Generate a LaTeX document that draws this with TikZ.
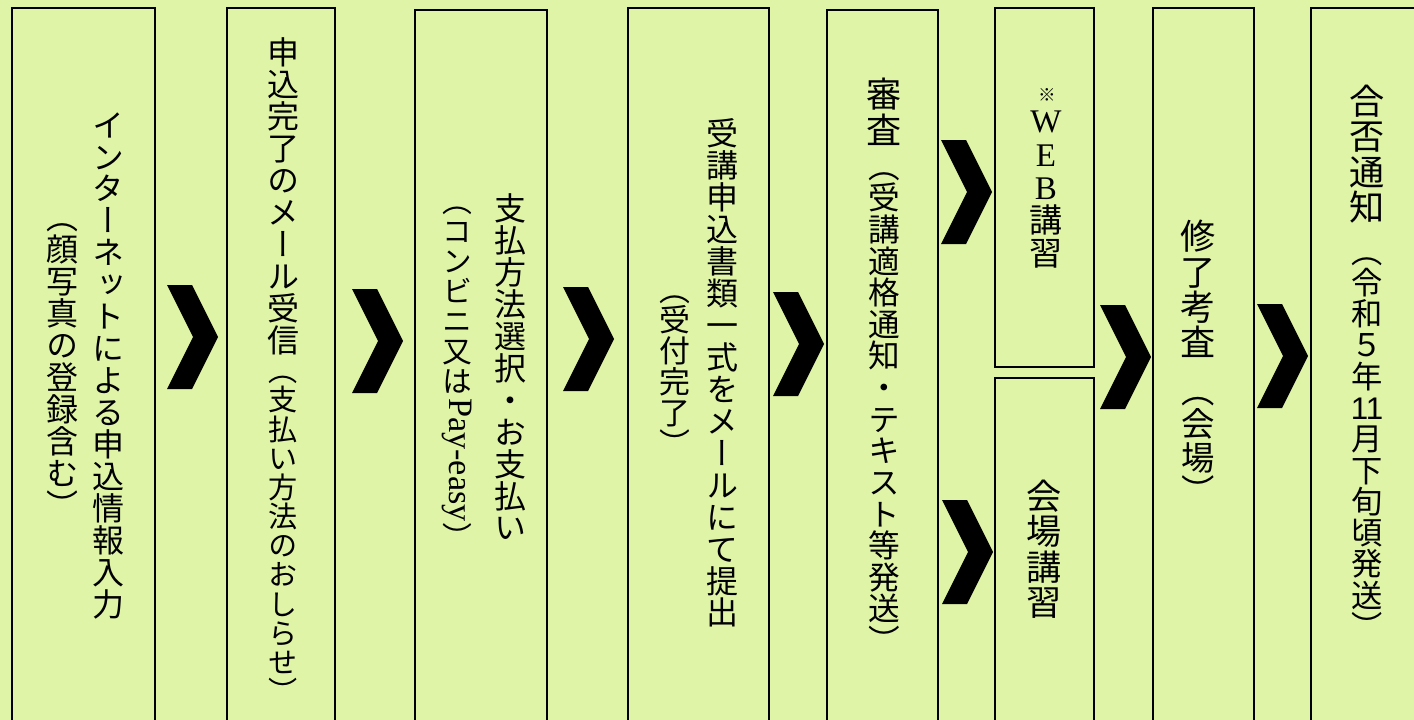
\documentclass[tikz,border=0pt]{standalone}
\usepackage{fontspec}
\usepackage{graphicx}
\usetikzlibrary{fit}
\newfontfamily\jpv[RawFeature=+vert]{Noto Sans CJK JP}
\newfontfamily\jph{Noto Sans CJK JP}
\newfontfamily\latinrm{Liberation Serif}
\newfontfamily\latinsf{Liberation Sans}
\definecolor{sheetgreen}{RGB}{223,244,166}
\newcommand\bigsz{\fontsize{20}{20}\selectfont}
\newcommand\mainsz{\fontsize{18.2}{18}\selectfont}
\newcommand\subsz[1]{\fontsize{#1}{#1}\selectfont}
% one character per line, for the vertical columns
\ExplSyntaxOn
\NewDocumentCommand \vstack { m }
  {
    \vbox:n
      {
        \skip_set:Nn \baselineskip { 1em }
        \tl_map_inline:nn {#1} { \hbox_to_wd:nn { 1em } { \hss ##1 \hss } }
      }
  }
\ExplSyntaxOff

\begin{document}
\begin{tikzpicture}[
    x=0.02cm, y=-0.02cm,
    stepbox/.style={draw, line width=1.4pt, inner sep=0pt, fit={#1}},
    vtext/.style={anchor=north, inner sep=0pt, font=\jpv\mainsz},
    chevron/.pic={\fill[black] (0,0) -- (25,0) -- (51,52) -- (25,104) -- (0,104) -- (26,52) -- cycle;}
]
    \useasboundingbox (0,0) rectangle (1414,720);
    \fill[sheetgreen] (0,0) rectangle (1414,720);
    \clip (0,0) rectangle (1414,720);

    % Boxes
    \node[stepbox={(12,8) (155,730)}] (entry) {};
    \node[stepbox={(227,8) (335,730)}] (mailrecv) {};
    \node[stepbox={(415,10) (547,730)}] (payment) {};
    \node[stepbox={(628,8) (769,730)}] (submit) {};
    \node[stepbox={(827,10) (938,730)}] (review) {};
    \node[stepbox={(995,8) (1094,367)}] (webcourse) {};
    \node[stepbox={(995,378) (1094,730)}] (venuecourse) {};
    \node[stepbox={(1153,8) (1254,730)}] (exam) {};
    \node[stepbox={(1311,8) (1430,730)}] (result) {};

    % Texts
    \node[vtext] (entry-main) at (108,112) {\vstack{インターネットによる申込情報入力}};
    \node[vtext, font=\jpv\subsz{18.2}] (entry-sub) at (62,223) {\vstack{（顔写真の登録含む）}};
    \node[vtext] (mailrecv-main) at (283,37) {\vstack{申込完了のメール受信}};
    \node[vtext, font=\jpv\subsz{16.6}] (mailrecv-sub) at (283,376) {\vstack{（支払い方法のおしらせ）}};
    \node[vtext] (payment-main) at (510,193) {\vstack{支払方法選択・お支払い}};
    \node[vtext, font=\jpv\subsz{17}] (payment-sub) at (457,207)
        {\vstack{（コンビニ又は{\raisebox{0.8em}{\rotatebox{-90}{\latinrm\fontsize{19.5}{19}\selectfont Pay-easy}}}）}};
    \node[vtext] (submit-main) at (722,118) {\vstack{受講申込書類一式をメールにて提出}};
    \node[vtext, font=\jpv\subsz{17.6}] (submit-sub) at (675,295) {\vstack{（受付完了）}};
    \node[vtext, font=\jpv\bigsz] (review-main) at (884,78) {\vstack{審査}};
    \node[vtext, font=\jpv\subsz{18}] (review-sub) at (884,172) {\vstack{（受講適格通知・テキスト等発送）}};
    \node[font=\jph\fontsize{10}{10}\selectfont] (webcourse-note) at (1047,95) {※};
    \node[vtext, font=\jpv\subsz{18.8}] (webcourse-main) at (1046,111)
        {\vstack{{\latinrm W}{\latinrm E}{\latinrm B}講習}};
    \node[vtext, font=\jpv\bigsz] (venuecourse-main) at (1044,480) {\vstack{会場講習}};
    \node[vtext, font=\jpv\bigsz] (exam-main) at (1198,220) {\vstack{修了考査}};
    \node[vtext, font=\jpv\subsz{19}] (exam-sub) at (1198,397) {\vstack{（会場）}};
    \node[vtext, font=\jpv\bigsz] (result-main) at (1367,85) {\vstack{合否通知}};
    \node[vtext, font=\jpv\subsz{17.8}] (result-sub) at (1367,257) {\vstack{（令和５年{\latinsf 11}月下旬頃発送）}};

    % Chevrons
    \pic at (167,285) {chevron};
    \pic at (352,289) {chevron};
    \pic at (563,287) {chevron};
    \pic at (773,292) {chevron};
    \pic at (941,140) {chevron};
    \pic at (942,500) {chevron};
    \pic at (1100,305) {chevron};
    \pic at (1257,304) {chevron};
\end{tikzpicture}
\end{document}
